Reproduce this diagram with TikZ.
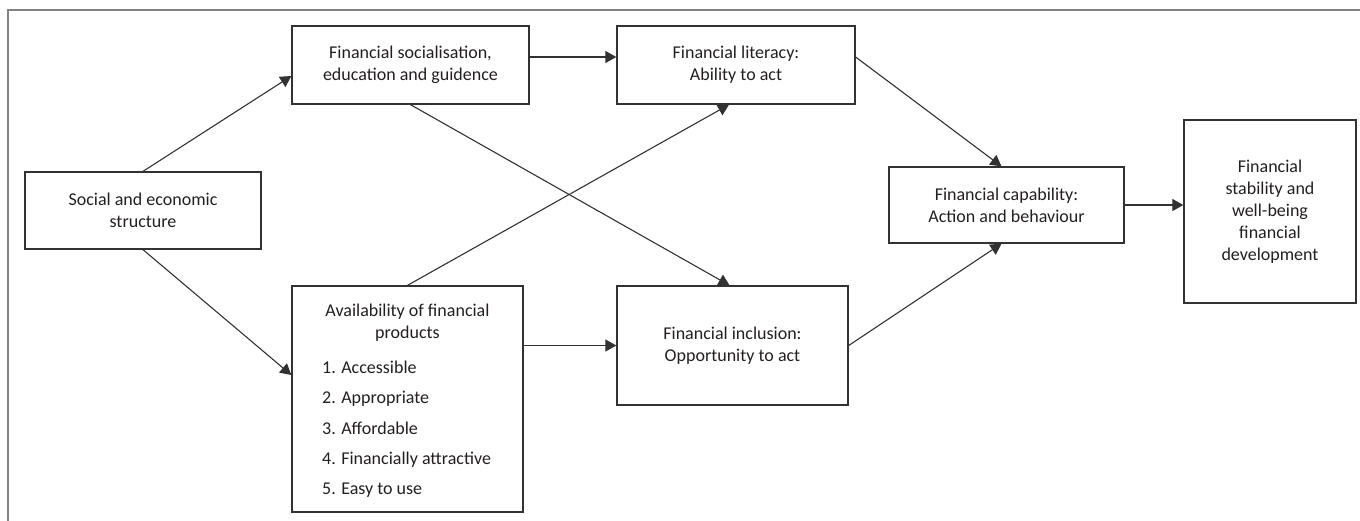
\documentclass[tikz,border=0pt]{standalone}
\usepackage{fontspec}
\setmainfont{Carlito}
\usetikzlibrary{arrows.meta,calc}
\definecolor{boxc}{RGB}{50,50,50}
\definecolor{txt}{RGB}{35,31,32}
\definecolor{framec}{RGB}{130,130,130}
\begin{document}
\begin{tikzpicture}[x=1pt,y=-1pt,
  box/.style={draw=boxc, line width=1.3pt, inner sep=0pt, align=center,
    font=\fontsize{18}{22}\selectfont, text=txt},
  arr/.style={draw=boxc, line width=1.1pt, -{Triangle[length=11pt,width=12pt]}},
  lbl/.style={inner sep=0pt, font=\fontsize{18}{22}\selectfont, text=txt}]
\useasboundingbox (0,0) rectangle (1360,520);
\draw[framec, line width=1.5pt] (1362,10) -- (8,10) -- (8,522);

\node[box, minimum width=236pt, minimum height=77pt] (social) at (143,210.5)
  {Social and economic\\structure};
\node[box, minimum width=237pt, minimum height=78pt] (socl) at (410.5,65)
  {Financial socialisation,\\education and guidence};
\node[box, minimum width=238pt, minimum height=78pt] (lit) at (736,65)
  {Financial literacy:\\Ability to act};
\node[box, minimum width=231pt, minimum height=226pt] (avail) at (407.5,399) {};
\node[box, minimum width=231pt, minimum height=119pt] (incl) at (732.5,345.5)
  {Financial inclusion:\\Opportunity to act};
\node[box, minimum width=235pt, minimum height=76pt] (cap) at (1006.5,205)
  {Financial capability:\\Action and behaviour};
\node[box, minimum width=172pt, minimum height=183pt] (stab) at (1270,211.5)
  {Financial\\stability and\\well-being\\financial\\development};

\node[lbl, anchor=base] (av1) at (407.5,316) {Availability of financial};
\node[lbl, anchor=base] (av2) at (407.5,338) {products};
\node[lbl, anchor=base west] (it1) at (322,373) {1. Accessible};
\node[lbl, anchor=base west] (it2) at (322,403) {2. Appropriate};
\node[lbl, anchor=base west] (it3) at (322,434) {3. Affordable};
\node[lbl, anchor=base west] (it4) at (322,464) {4. Financially attractive};
\node[lbl, anchor=base west] (it5) at (322,494) {5. Easy to use};

\coordinate (s2e) at ([yshift=8pt]socl.east);
\coordinate (lte) at ([yshift=8pt]lit.east);

\draw[arr] (social.north) -- ([yshift=-11pt]socl.west);
\draw[arr] (social.south) -- ([yshift=24pt]avail.west);
\draw[arr] (s2e) -- (s2e -| lit.west);
\draw[arr] (socl.south) -- ([xshift=-3pt]incl.north);
\draw[arr] (avail.north) -- ([xshift=-7pt]lit.south);
\draw[arr] (avail.east |- incl.west) -- (incl.west);
\draw[arr] (lte) -- ([xshift=-5pt]cap.north);
\draw[arr] (incl.east) -- ([xshift=-5pt]cap.south);
\draw[arr] (cap.east) -- (cap.east -| stab.west);
\end{tikzpicture}
\end{document}
